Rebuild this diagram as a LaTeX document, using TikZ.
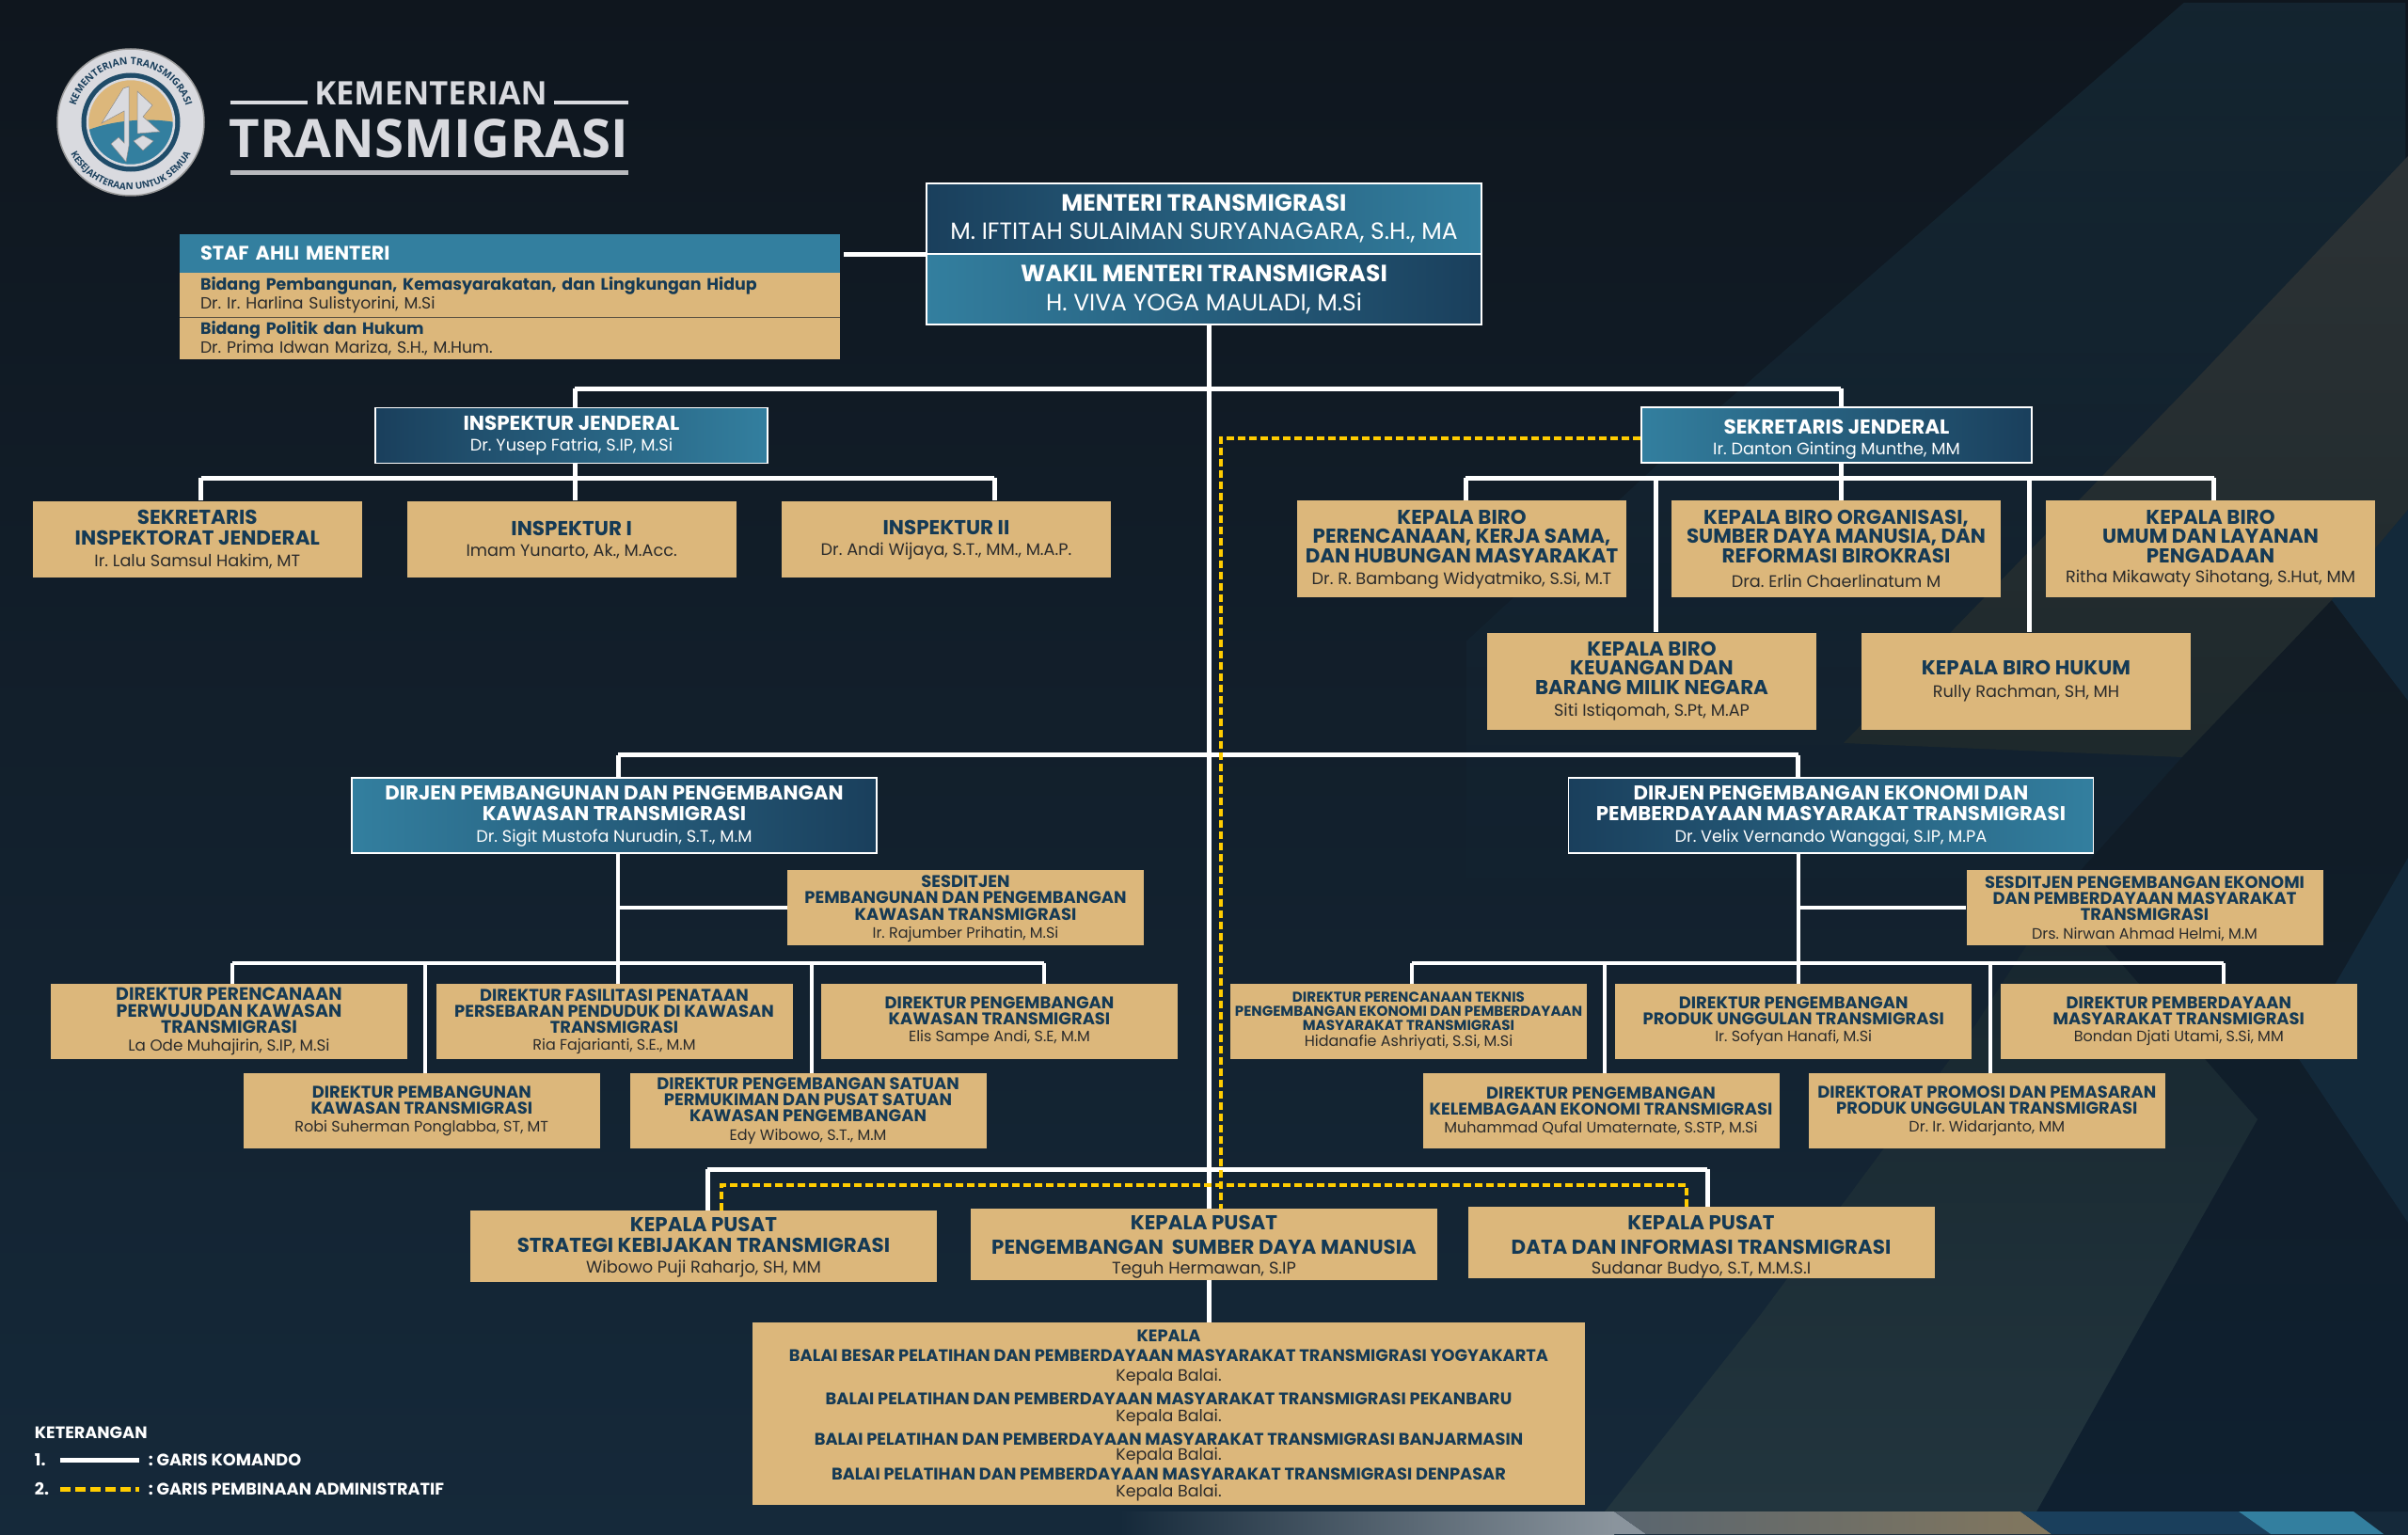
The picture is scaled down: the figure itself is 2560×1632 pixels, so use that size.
\documentclass[tikz,border=0pt]{standalone}
\usepackage{fontspec}
\setmainfont{Poppins}
\newfontfamily\logofont{Open Sans}
\usetikzlibrary{decorations.text,fadings}

\definecolor{bgtop}{HTML}{0F161E}
\definecolor{bgbot}{HTML}{15293A}
\definecolor{navy}{HTML}{1A3F5C}
\definecolor{teal}{HTML}{337F9F}
\definecolor{emas}{HTML}{DCB77B}
\definecolor{judul}{HTML}{153A55}
\definecolor{namac}{HTML}{2B2B2B}
\definecolor{kuning}{HTML}{FFCC00}
\definecolor{perak}{HTML}{D9DADF}
\definecolor{abu1}{HTML}{2C3235}
\definecolor{abu2}{HTML}{1E292C}
\definecolor{abu3}{HTML}{17262E}
\definecolor{abu4}{HTML}{22353E}
\definecolor{gelap1}{HTML}{111B24}
\definecolor{gelap2}{HTML}{0F2030}
\definecolor{sisi}{HTML}{13293A}

\newcommand{\fs}[1]{\fontsize{#1}{#1}\selectfont}
\newcommand{\nama}[2]{{\fontsize{#1}{#1}\selectfont\mdseries\color{namac}#2}}
\newcommand{\namaw}[2]{{\fontsize{#1}{#1}\selectfont\mdseries\color{white}#2}}
\newcommand{\atas}[1]{\rule{0pt}{#1pt}}

\tikzset{
  garis/.style={draw=white,line width=5pt},
  garist/.style={draw=white,line width=4pt},
  admin/.style={draw=kuning,line width=3.5pt,dash pattern=on 8pt off 4pt},
  emasbox/.style={fill=emas,text=judul,align=center,inner sep=0pt,font=\bfseries},
  birubox/.style={draw=white,line width=1.2pt,text=white,align=center,inner sep=0pt,font=\bfseries},
  ltr/.style={birubox,left color=navy,right color=teal},
  rtl/.style={birubox,left color=teal,right color=navy},
  inspbox/.style={emasbox,minimum width=350pt,minimum height=81pt,font=\bfseries\fontsize{21.5}{22}\selectfont},
  birobox/.style={emasbox,minimum width=350pt,minimum height=103pt,font=\bfseries\fontsize{21.4}{20.5}\selectfont},
  dirbox/.style={emasbox,minimum width=379pt,minimum height=80pt,font=\bfseries\fontsize{17.9}{17.2}\selectfont},
  pusatbox/.style={emasbox,minimum width=496pt,minimum height=76pt,font=\bfseries\fontsize{21.4}{21.4}\selectfont},
  dirjenbox/.style={minimum width=558pt,minimum height=80pt,font=\bfseries\fontsize{21.3}{21.5}\selectfont},
  kecilbox/.style={minimum width=415pt,minimum height=59pt,font=\bfseries\fs{21.5}},
  stafbox/.style={minimum width=702pt,inner xsep=22pt,text width=658pt,align=left},
  lgd/.style={text=white,font=\bfseries\fs{17.7},inner sep=0pt,anchor=west}
}

\begin{document}
\frenchspacing
\begin{tikzpicture}[x=1pt,y=-1pt]
\useasboundingbox (0,0) rectangle (2560,1632);
% latar
\shade[top color=bgtop,bottom color=bgbot] (0,0) rectangle (2560,1632);
\fill[teal,opacity=.14,path fading=south] (2324,0) -- (1826,434) -- (1560,680) -- (1560,1000) -- (2560,1000) -- (2560,0) -- cycle;
\shade[top color=abu1,bottom color=abu2] (2560,166) -- (2336,402) -- (2076,670) -- (1960,790) -- (2320,805) -- (2479,638) -- (2560,542) -- cycle;
\shade[top color=gelap1,bottom color=gelap2] (2479,638) -- (2320,805) -- (2190,950) -- (2363,1253) -- (2165,1607) -- (2560,1607) -- (2560,745) -- cycle;
\shade[top color=abu3,bottom color=abu4] (1706,1607) -- (1870,1400) -- (2100,1090) -- (2190,950) -- (2400,1190) -- (2281,1400) -- (2165,1607) -- cycle;
\fill[sisi] (2560,542) -- (2479,638) -- (2560,745) -- cycle;
\fill[sisi] (2560,912) -- (2440,1120) -- (2560,1300) -- cycle;
% pita bawah
\shade[left color=bgbot,right color=white!50!bgbot] (1190,1607) rectangle (1716,1631);
\fill[white!50!bgbot] (1716,1607) -- (1750,1631) -- (1716,1631) -- cycle;
\shade[left color=black!25!white!40!bgbot,right color=emas!55!bgbot] (1716,1607) -- (2148,1607) -- (2181,1631) -- (1750,1631) -- cycle;
\fill[navy] (2148,1607) -- (2380,1607) -- (2414,1631) -- (2181,1631) -- cycle;
\fill[teal] (2380,1607) -- (2502,1607) -- (2534,1631) -- (2414,1631) -- cycle;
% logo
\node[circle,minimum size=156pt,inner sep=0pt,fill=perak,draw=white!60!black,line width=1.5pt] (logo) at (139,130) {};
\node[circle,minimum size=98pt,inner sep=0pt,fill=emas,draw=navy!80!teal,line width=7pt] (logoin) at (139,130) {};
\begin{scope}
\clip (139,130) circle (46pt);
\fill[teal] (85,142) .. controls (120,125) and (170,125) .. (195,132) -- (195,190) -- (85,190) -- cycle;
\end{scope}
\draw[perak,line width=2.5pt] (139,130) circle (46pt);
\fill[perak,draw=white!55!black,line width=.5pt] (108,131) -- (131,94) -- (137,92) -- (137,155) -- (134,172) -- (118,153) -- (126,146) -- (132,152) -- (132,118) -- cycle;
\fill[perak,draw=white!55!black,line width=.5pt] (146,97) -- (162,112) -- (152,124) -- (170,140) -- (146,142) -- cycle;
\fill[perak,draw=white!55!black,line width=.5pt] (142,150) -- (152,144) -- (163,150) -- (152,160) -- cycle;
\begin{scope}[shift={(139,130)},x=1pt,y=1pt]
\path[postaction={decorate,decoration={text along path,text align=center,
  text={|\logofont\bfseries\fontsize{10.5}{10.5}\selectfont\color{navy}|KEMENTERIAN TRANSMIGRASI}}}]
  (172:61pt) arc (172:8:61pt);
\path[postaction={decorate,decoration={text along path,text align=center,
  text={|\logofont\bfseries\fontsize{10}{10}\selectfont\color{navy}|KESEJAHTERAAN UNTUK SEMUA}}}]
  (195:72pt) arc (195:345:72pt);
\end{scope}
% nama kementerian
\node[text=perak,inner sep=0pt,font=\logofont\bfseries\fs{34.5}] (kem) at (458,99) {KEMENTERIAN};
\node[text=perak,inner sep=0pt,font=\logofont\bfseries\fs{56.4}] (trans) at (456,147) {TRANSMIGRASI};
\coordinate (k1) at (244.5,108.7);
\coordinate (k2) at (327,108.7);
\coordinate (k3) at (589,108.7);
\coordinate (k4) at (667.6,108.7);
\coordinate (k5) at (244.5,184);
\coordinate (k6) at (667.6,184);
\draw[perak,line width=4pt] (k1) -- (k2);
\draw[perak,line width=4pt] (k3) -- (k4);
\draw[perak!85!black,line width=5pt] (k5) -- (k6);
% menteri
\node[ltr,minimum width=590pt,minimum height=75pt] (menteri) at (1280,232.5) {\fs{25}MENTERI TRANSMIGRASI\\[11pt]\namaw{25}{M. IFTITAH SULAIMAN SURYANAGARA, S.H., MA}};
\node[rtl,minimum width=590pt,minimum height=75pt] (wamen) at (1280,307.5) {\fs{25}WAKIL MENTERI TRANSMIGRASI\\[11pt]\namaw{25}{H. VIVA YOGA MAULADI, M.Si}};
% staf ahli
\node[stafbox,fill=teal,text=white,font=\bfseries\fs{20.8},minimum height=40pt,inner ysep=0pt] (staf) at (542,269.5) {STAF AHLI MENTERI};
\node[emasbox,stafbox,font=\bfseries\fs{17.45},minimum height=47.5pt] (staf1) at (542,313.3) {Bidang Pembangunan, Kemasyarakatan, dan Lingkungan Hidup\\[1pt]\nama{17.3}{Dr. Ir. Harlina Sulistyorini, M.Si}};
\node[emasbox,stafbox,font=\bfseries\fs{17.45},minimum height=45pt] (staf2) at (542,359.5) {Bidang Politik dan Hukum\\[1pt]\nama{17.3}{Dr. Prima Idwan Mariza, S.H., M.Hum.}};
\draw[namac!75!emas,line width=1pt] (staf1.south west) -- (staf1.south east);
\coordinate (s1) at (897,270);
\draw[garis] (s1) -- (s1 -| menteri.west);
% inspektorat
\node[ltr,kecilbox,minimum width=417pt] (irjen) at (607.5,463) {INSPEKTUR JENDERAL\\[1pt]\namaw{17.7}{Dr. Yusep Fatria, S.IP, M.Si}};
\node[inspbox] (ses) at (209.8,573) {\atas{17}SEKRETARIS\\INSPEKTORAT JENDERAL\\[1pt]\nama{17.7}{Ir. Lalu Samsul Hakim, MT}};
\node[inspbox] (ins1) at (607.7,573) {\atas{18}INSPEKTUR I\\[0pt]\nama{17.7}{Imam Yunarto, Ak., M.Acc.}};
\node[inspbox] (ins2) at (1006,573) {\atas{18}INSPEKTUR II\\[0pt]\nama{17.7}{Dr. Andi Wijaya, S.T., MM., M.A.P.}};
% sekjen
\node[rtl,kecilbox] (sekjen) at (1952.5,462.5) {\atas{25}SEKRETARIS JENDERAL\\[1pt]\namaw{17.7}{Ir. Danton Ginting Munthe, MM}};
\node[birobox] (biro1) at (1554,583.5) {\atas{17}KEPALA BIRO\\PERENCANAAN, KERJA SAMA,\\DAN HUBUNGAN MASYARAKAT\\[3pt]\nama{17.7}{Dr. R. Bambang Widyatmiko, S.Si, M.T}};
\node[birobox] (biro2) at (1952,583.5) {KEPALA BIRO ORGANISASI,\\SUMBER DAYA MANUSIA, DAN\\REFORMASI BIROKRASI\\[6pt]\nama{17.7}{Dra. Erlin Chaerlinatum M}};
\node[birobox] (biro3) at (2350,583.5) {KEPALA BIRO\\UMUM DAN LAYANAN\\PENGADAAN\\[1pt]\nama{17.7}{Ritha Mikawaty Sihotang, S.Hut, MM}};
\node[birobox] (biro4) at (1756,724) {KEPALA BIRO\\KEUANGAN DAN\\BARANG MILIK NEGARA\\[3pt]\nama{17.7}{Siti Istiqomah, S.Pt, M.AP}};
\node[birobox] (biro5) at (2154,724) {KEPALA BIRO HUKUM\\[3pt]\nama{17.7}{Rully Rachman, SH, MH}};
% dirjen PKT
\node[rtl,dirjenbox] (dirjen1) at (653,867) {\atas{16}DIRJEN PEMBANGUNAN DAN PENGEMBANGAN\\[1pt]KAWASAN TRANSMIGRASI\\[1pt]\namaw{17.7}{Dr. Sigit Mustofa Nurudin, S.T., M.M}};
\node[dirbox] (sesd1) at (1026.5,965) {\atas{15}SESDITJEN\\PEMBANGUNAN DAN PENGEMBANGAN\\KAWASAN TRANSMIGRASI\\[2pt]\nama{16}{Ir. Rajumber Prihatin, M.Si}};
\node[dirbox,font=\bfseries\fontsize{19}{17.5}\selectfont] (dir1) at (243.5,1086) {DIREKTUR PERENCANAAN\\PERWUJUDAN KAWASAN\\TRANSMIGRASI\\[1pt]\nama{16.8}{La Ode Muhajirin, S.IP, M.Si}};
\node[dirbox] (dir2) at (653,1086) {DIREKTUR FASILITASI PENATAAN\\PERSEBARAN PENDUDUK DI KAWASAN\\TRANSMIGRASI\\[1pt]\nama{16}{Ria Fajarianti, S.E., M.M}};
\node[dirbox] (dir3) at (1062.5,1086) {DIREKTUR PENGEMBANGAN\\KAWASAN TRANSMIGRASI\\[1pt]\nama{16}{Elis Sampe Andi, S.E, M.M}};
\node[dirbox] (dir4) at (448.3,1181) {DIREKTUR PEMBANGUNAN\\KAWASAN TRANSMIGRASI\\[2pt]\nama{16}{Robi Suherman Ponglabba, ST, MT}};
\node[dirbox] (dir5) at (859,1181) {DIREKTUR PENGEMBANGAN SATUAN\\PERMUKIMAN DAN PUSAT SATUAN\\KAWASAN PENGEMBANGAN\\[2pt]\nama{16}{Edy Wibowo, S.T., M.M}};
% dirjen PEMT
\node[ltr,dirjenbox] (dirjen2) at (1946.5,867) {\atas{16}DIRJEN PENGEMBANGAN EKONOMI DAN\\[1pt]PEMBERDAYAAN MASYARAKAT TRANSMIGRASI\\[1pt]\namaw{17.7}{Dr. Velix Vernando Wanggai, S.IP, M.PA}};
\node[dirbox] (sesd2) at (2280,965) {\atas{15}SESDITJEN PENGEMBANGAN EKONOMI\\DAN PEMBERDAYAAN MASYARAKAT\\TRANSMIGRASI\\[3pt]\nama{16}{Drs. Nirwan Ahmad Helmi, M.M}};
\node[dirbox,font=\bfseries\fontsize{15.1}{15}\selectfont] (dir6) at (1497.5,1086) {DIREKTUR PERENCANAAN TEKNIS\\PENGEMBANGAN EKONOMI DAN PEMBERDAYAAN\\MASYARAKAT TRANSMIGRASI\\[2pt]\nama{16}{Hidanafie Ashriyati, S.Si, M.Si}};
\node[dirbox] (dir7) at (1906.7,1086) {DIREKTUR PENGEMBANGAN\\PRODUK UNGGULAN TRANSMIGRASI\\[1pt]\nama{16}{Ir. Sofyan Hanafi, M.Si}};
\node[dirbox] (dir8) at (2316.3,1086) {DIREKTUR PEMBERDAYAAN\\MASYARAKAT TRANSMIGRASI\\[1pt]\nama{16}{Bondan Djati Utami, S.Si, MM}};
\node[dirbox] (dir9) at (1702,1181) {DIREKTUR PENGEMBANGAN\\KELEMBAGAAN EKONOMI TRANSMIGRASI\\[2pt]\nama{16}{Muhammad Qufal Umaternate, S.STP, M.Si}};
\node[dirbox] (dir10) at (2112.3,1181) {DIREKTORAT PROMOSI DAN PEMASARAN\\PRODUK UNGGULAN TRANSMIGRASI\\[2pt]\nama{16}{Dr. Ir. Widarjanto, MM}};
% pusat
\node[pusatbox] (pusat1) at (748,1325) {\atas{18}KEPALA PUSAT\\STRATEGI KEBIJAKAN TRANSMIGRASI\\[1pt]\nama{17.8}{Wibowo Puji Raharjo, SH, MM}};
\node[pusatbox] (pusat2) at (1280,1323) {\atas{21}KEPALA PUSAT\\[4pt]PENGEMBANGAN\ \ SUMBER DAYA MANUSIA\\[0pt]\nama{17.8}{Teguh Hermawan, S.IP}};
\node[pusatbox] (pusat3) at (1808.5,1321) {\atas{25}KEPALA PUSAT\\[4pt]DATA DAN INFORMASI TRANSMIGRASI\\[0pt]\nama{17.8}{Sudanar Budyo, S.T, M.M.S.I}};
% balai
\node[emasbox,font=\bfseries\fontsize{17.8}{17}\selectfont,minimum width=885pt,minimum height=194pt] (balai) at (1242.5,1503) {\atas{17}KEPALA\\[4pt]BALAI BESAR PELATIHAN DAN PEMBERDAYAAN MASYARAKAT TRANSMIGRASI YOGYAKARTA\\[4pt]\nama{17.5}{Kepala Balai.}\\[6pt]BALAI PELATIHAN DAN PEMBERDAYAAN MASYARAKAT TRANSMIGRASI PEKANBARU\\[1pt]\nama{17.5}{Kepala Balai.}\\[7.5pt]BALAI PELATIHAN DAN PEMBERDAYAAN MASYARAKAT TRANSMIGRASI BANJARMASIN\\[-1pt]\nama{17.5}{Kepala Balai.}\\[2.6pt]BALAI PELATIHAN DAN PEMBERDAYAAN MASYARAKAT TRANSMIGRASI DENPASAR\\[1pt]\nama{17.5}{Kepala Balai.}};
% garis komando
\coordinate (a0) at (1285,413);
\coordinate (a1) at (611,413);
\coordinate (a2) at (1957,413);
\draw[garis] (wamen.south -| a0) -- (a0 |- pusat2.north);
\draw[garis] (a0 |- pusat2.south) -- (a0 |- balai.north);
\draw[garis] (a1) -- (a2);
\draw[garis] (a1) -- (a1 |- irjen.north);
\draw[garis] (a2) -- (a2 |- sekjen.north);
\coordinate (b0) at (611,508);
\coordinate (b1) at (213.6,508);
\coordinate (b2) at (1057,508);
\draw[garis] (b0 |- irjen.south) -- (b0 |- ins1.north);
\draw[garis] (b1) -- (b2);
\draw[garis] (b1) -- (b1 |- ses.north);
\draw[garis] (b2) -- (b2 |- ins2.north);
\coordinate (c0) at (1957,508);
\coordinate (c1) at (1558,508);
\coordinate (c2) at (1760,508);
\coordinate (c3) at (2157.5,508);
\coordinate (c4) at (2353.6,508);
\draw[garis] (c0 |- sekjen.south) -- (c0 |- biro2.north);
\draw[garis] (c1) -- (c4);
\draw[garis] (c1) -- (c1 |- biro1.north);
\draw[garis] (c2) -- (c2 |- biro4.north);
\draw[garis] (c3) -- (c3 |- biro5.north);
\draw[garis] (c4) -- (c4 |- biro3.north);
\coordinate (d1) at (657,802.7);
\coordinate (d2) at (1911.7,802.7);
\draw[garis] (d1) -- (d2);
\draw[garis] (d1) -- (d1 |- dirjen1.north);
\draw[garis] (d2) -- (d2 |- dirjen2.north);
\coordinate (e0) at (657,1024);
\coordinate (e1) at (247,1024);
\coordinate (e2) at (452,1024);
\coordinate (e3) at (862.6,1024);
\coordinate (e4) at (1110,1024);
\draw[garist] (e0 |- dirjen1.south) -- (e0 |- dir2.north);
\draw[garist] (e0 |- sesd1.west) -- (sesd1.west);
\draw[garist] (e1) -- (e4);
\draw[garist] (e1) -- (e1 |- dir1.north);
\draw[garist] (e2) -- (e2 |- dir4.north);
\draw[garist] (e3) -- (e3 |- dir5.north);
\draw[garist] (e4) -- (e4 |- dir3.north);
\coordinate (f0) at (1911.7,1024);
\coordinate (f1) at (1501,1024);
\coordinate (f2) at (1706,1024);
\coordinate (f3) at (2116,1024);
\coordinate (f4) at (2364,1024);
\draw[garist] (f0 |- dirjen2.south) -- (f0 |- dir7.north);
\draw[garist] (f0 |- sesd2.west) -- (sesd2.west);
\draw[garist] (f1) -- (f4);
\draw[garist] (f1) -- (f1 |- dir6.north);
\draw[garist] (f2) -- (f2 |- dir9.north);
\draw[garist] (f3) -- (f3 |- dir10.north);
\draw[garist] (f4) -- (f4 |- dir8.north);
\coordinate (g1) at (752,1243);
\coordinate (g2) at (1815,1243);
\draw[garis] (g1) -- (g2);
\draw[garis] (g1) -- (g1 |- pusat1.north);
\draw[garis] (g2) -- (g2 |- pusat3.north);
% garis pembinaan
\coordinate (h0) at (1298,466);
\coordinate (h1) at (767,1260);
\coordinate (h2) at (1793,1260);
\draw[admin] (sekjen.west |- h0) -- (h0) -- (h0 |- pusat2.north);
\draw[admin] (h1 |- pusat1.north) -- (h1) -- (h2) -- (h2 |- pusat3.north);
% keterangan
\node[lgd] (ket) at (36.7,1523) {KETERANGAN};
\node[lgd] (no1) at (36.7,1552) {1.};
\node[lgd] (no2) at (36.7,1583) {2.};
\node[lgd] (lb1) at (157.7,1552) {: GARIS KOMANDO};
\node[lgd] (lb2) at (157.7,1583) {: GARIS PEMBINAAN ADMINISTRATIF};
\coordinate (l1) at (64,1552.7);
\coordinate (l2) at (148,1552.7);
\coordinate (l3) at (64,1583.7);
\coordinate (l4) at (148,1583.7);
\draw[garis] (l1) -- (l2);
\draw[kuning,line width=5pt,dash pattern=on 11pt off 5pt] (l3) -- (l4);
\end{tikzpicture}
\end{document}
